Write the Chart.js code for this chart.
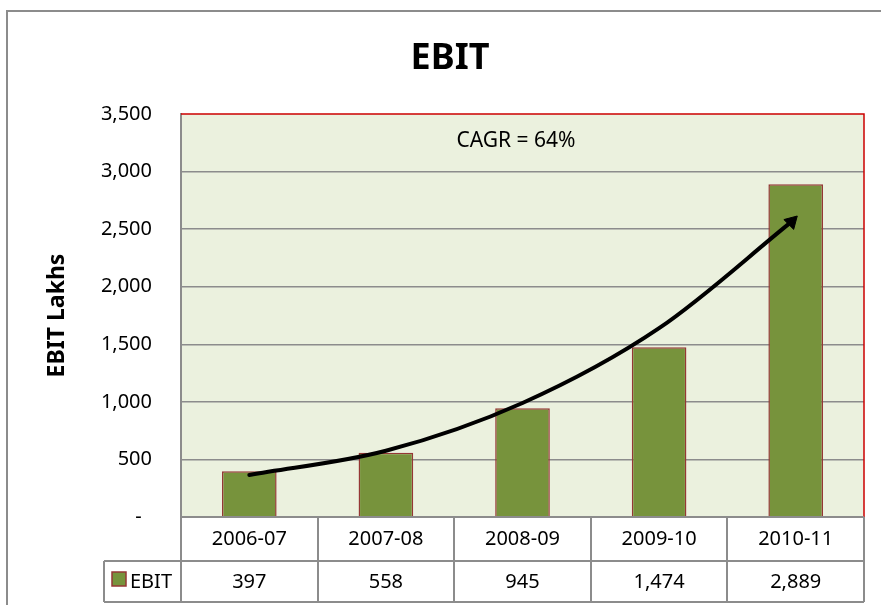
<!DOCTYPE html>
<html>
<head>
<meta charset="utf-8">
<title>EBIT</title>
<script src="https://cdn.jsdelivr.net/npm/chart.js@4"></script>
<style>
  html, body { margin: 0; padding: 0; background: #fff; }
  #wrap { width: 881px; height: 605px; }
</style>
</head>
<body>
<div id="wrap"><canvas id="ebit" width="881" height="605"></canvas></div>
<script>
"use strict";

const YEARS = ["2006-07", "2007-08", "2008-09", "2009-10", "2010-11"];
const EBIT = [397, 558, 945, 1474, 2889];
const Y_TICKS = [0, 500, 1000, 1500, 2000, 2500, 3000, 3500];
const TITLE = "EBIT";
const Y_TITLE = "EBIT Lakhs";
const NOTE = "CAGR = 64%";

// growth arrow (x = category index, y = lakhs)
const CURVE_X = [0, 1, 2, 3, 3.97];
const CURVE_Y = [365, 575, 990, 1640, 2565];

const FONT = "'Noto Sans', 'Open Sans', sans-serif";
const GRID = "#8c8c8c";
const PLOT_BG = "#EBF1DE";
const BAR_FILL = "#77933C";
const BAR_EDGE = "#953735";
const RED = "#cc0000";

const $ = (id) => document.getElementById(id);
const fmt = (v) => (v === 0 ? "-  " : v.toLocaleString("en-US"));

// plot background, frame, title, note and the data table under the axis
const decor = {
  id: "decor",
  beforeDraw(chart) {
    const { ctx, chartArea: a } = chart;
    ctx.save();
    ctx.fillStyle = PLOT_BG;
    ctx.fillRect(a.left, a.top, a.right - a.left, a.bottom - a.top);
    ctx.restore();
  },
  afterDraw(chart) {
    const { ctx, chartArea: a } = chart;
    const xs = chart.scales.x;
    const cw = (a.right - a.left) / YEARS.length;
    const row1 = a.bottom, row2 = a.bottom + 44, row3 = a.bottom + 85;
    const keyLeft = 104;
    ctx.save();

    // outer chart frame (only top/left visible)
    ctx.strokeStyle = GRID; ctx.lineWidth = 2;
    ctx.beginPath();
    ctx.moveTo(7, 605); ctx.lineTo(7, 11); ctx.lineTo(881, 11);
    ctx.stroke();

    // red plot frame top + right
    ctx.strokeStyle = RED; ctx.lineWidth = 1.5;
    ctx.beginPath();
    ctx.moveTo(a.left, a.top); ctx.lineTo(a.right, a.top); ctx.lineTo(a.right, a.bottom);
    ctx.stroke();

    // table grid
    ctx.strokeStyle = GRID; ctx.lineWidth = 2;
    ctx.beginPath();
    ctx.moveTo(a.left, row1); ctx.lineTo(a.right, row1);
    ctx.moveTo(keyLeft, row2); ctx.lineTo(a.right, row2);
    ctx.moveTo(keyLeft, row3); ctx.lineTo(a.right, row3);
    ctx.moveTo(keyLeft, row2); ctx.lineTo(keyLeft, row3);
    for (let i = 0; i <= YEARS.length; i++) {
      const x = Math.round(a.left + i * cw);
      ctx.moveTo(x, row1); ctx.lineTo(x, row3);
    }
    ctx.stroke();

    ctx.fillStyle = "#000";
    ctx.font = `20px ${FONT}`;
    ctx.textAlign = "center"; ctx.textBaseline = "middle";
    YEARS.forEach((y, i) => {
      const cx = xs.getPixelForValue(i);
      ctx.fillText(y, cx, (row1 + row2) / 2);
      ctx.fillText(fmt(EBIT[i]), cx, (row2 + row3) / 2 + 1);
    });

    // legend key
    ctx.fillStyle = BAR_FILL; ctx.strokeStyle = BAR_EDGE; ctx.lineWidth = 1.5;
    ctx.fillRect(112, 572, 14, 14); ctx.strokeRect(112, 572, 14, 14);
    ctx.fillStyle = "#000"; ctx.textAlign = "left";
    ctx.fillText(chart.data.datasets[1].label, 130, (row2 + row3) / 2 + 1);

    // title + note
    ctx.textAlign = "center";
    ctx.font = `bold 36px ${FONT}`;
    ctx.fillText(TITLE, 450, 59);
    ctx.font = `21px ${FONT}`;
    ctx.fillText(NOTE, 516, 141);
    ctx.restore();
  },
};

new Chart($("ebit"), {
  data: {
    labels: YEARS,
    datasets: [
      {
        type: "line",
        label: "trend",
        xAxisID: "x2",
        data: CURVE_X.map((x, i) => ({ x, y: CURVE_Y[i] })),
        borderColor: "#000", borderWidth: 4, borderCapStyle: "round",
        cubicInterpolationMode: "monotone",
        pointStyle: "triangle", pointRotation: 45,
        pointRadius: CURVE_X.map((_, i) => (i === CURVE_X.length - 1 ? 8 : 0)),
        pointBackgroundColor: "#000", pointBorderColor: "#000", pointBorderWidth: 1,
        order: 0,
      },
      {
        type: "bar",
        label: "EBIT",
        data: EBIT,
        backgroundColor: BAR_FILL, borderColor: BAR_EDGE, borderWidth: 1.5,
        categoryPercentage: 1, barPercentage: 0.4, grouped: false,
        order: 1,
      },
    ],
  },
  plugins: [decor],
  options: {
    responsive: false, animation: false, devicePixelRatio: 1,
    layout: { padding: { top: 114, bottom: 88, right: 17, left: 0 } },
    scales: {
      x: { type: "category", display: false, offset: true },
      x2: { type: "linear", display: false, min: -0.5, max: 4.5 },
      y: {
        min: 0, max: 3500,
        afterFit: (s) => { s.width = 181; },
        afterBuildTicks: (s) => { s.ticks = Y_TICKS.map((value) => ({ value })); },
        ticks: {
          padding: 29, color: "#000",
          font: { family: FONT, size: 20 },
          callback: (v) => fmt(v),
        },
        grid: {
          drawTicks: false, lineWidth: 1.5,
          color: (c) => (c.tick.value === 0 || c.tick.value === 3500 ? "rgba(0,0,0,0)" : GRID),
        },
        border: { display: true, color: GRID, width: 2 },
        title: {
          display: true, text: Y_TITLE, color: "#000",
          font: { family: FONT, size: 23, weight: "bold" },
          padding: { top: 44, bottom: 0 },
        },
      },
    },
    plugins: { legend: { display: false }, tooltip: { enabled: false } },
  },
});
</script>
</body>
</html>
